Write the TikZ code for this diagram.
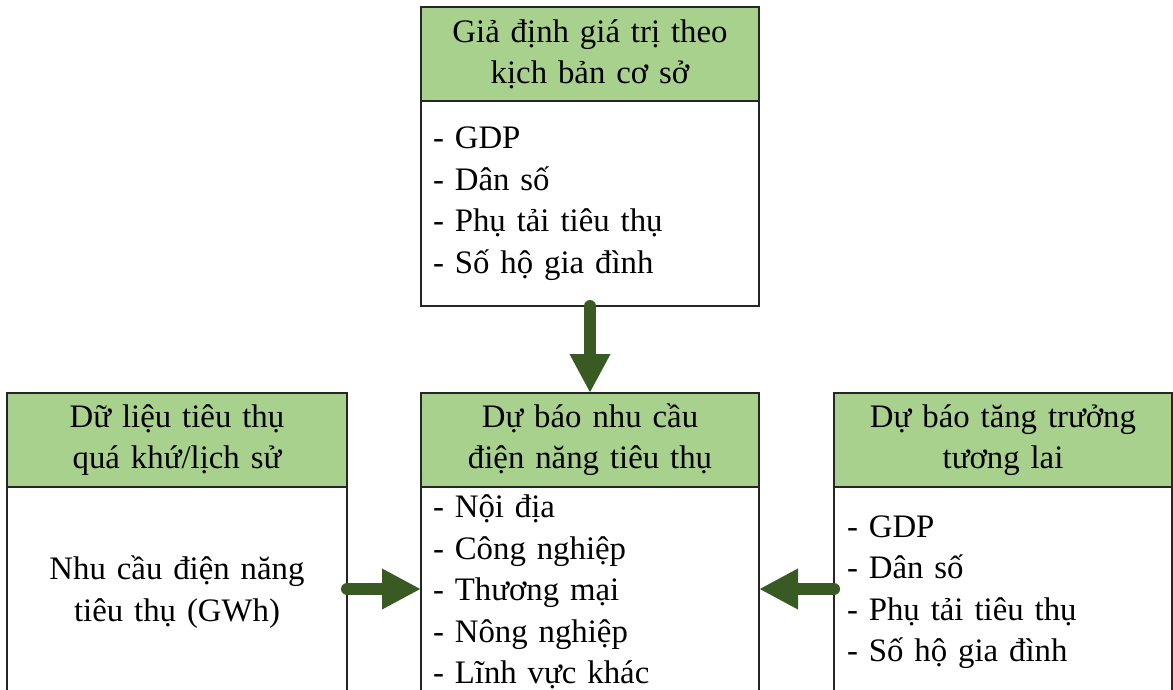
\documentclass[tikz,border=0pt]{standalone}
\usepackage{fontspec}
\setmainfont{Liberation Serif}
\usetikzlibrary{arrows.meta}
\definecolor{headgreen}{HTML}{A9D18E}
\definecolor{arrowgreen}{HTML}{3A5A24}
\tikzset{
  boxline/.style={draw=black!85, line width=1.3pt, outer sep=0pt},
  headbox/.style={boxline, fill=headgreen, anchor=north west, inner sep=0pt,
    minimum width=338pt, minimum height=94pt, text width=338pt, align=center,
    font=\fontsize{32.8}{41}\selectfont},
  listbox/.style={boxline, fill=white, anchor=north west, inner ysep=0pt, inner xsep=12pt,
    minimum width=338pt, text width=314pt, align=left,
    font=\fontsize{32.8}{41.5}\selectfont},
  bigarrow/.style={draw=arrowgreen, line width=12pt, line cap=round,
    -{Triangle[length=39pt 0 0, width=38pt 0 0]}}
}
\begin{document}
\begin{tikzpicture}[x=1pt,y=-1pt]
\useasboundingbox (0,0) rectangle (1173,690);
\clip (0,0) rectangle (1173,690);

% scenario assumptions
\node[headbox] (tophead) at (421,7) {Giả định giá trị theo\\kịch bản cơ sở};
\node[listbox, minimum height=205pt] (topbody) at (tophead.south west)
  {- GDP\\- Dân số\\- Phụ tải tiêu thụ\\- Số hộ gia đình};

% historical consumption data
\node[headbox, minimum width=340pt, text width=340pt] (lefthead) at (7,393)
  {Dữ liệu tiêu thụ\\quá khứ/lịch sử};
\node[listbox, minimum height=210pt, minimum width=340pt, text width=316pt, align=center]
  (leftbody) at (lefthead.south west)
  {Nhu cầu điện năng\\tiêu thụ (GWh)};

% demand forecast
\node[headbox] (midhead) at (421,393) {Dự báo nhu cầu\\điện năng tiêu thụ};
\node[listbox, minimum height=210pt] (midbody) at (midhead.south west)
  {- Nội địa\\- Công nghiệp\\- Thương mại\\- Nông nghiệp\\- Lĩnh vực khác};

% future growth forecast
\node[headbox] (righthead) at (834,393) {Dự báo tăng trưởng\\tương lai};
\node[listbox, minimum height=210pt, inner xsep=13pt, text width=312pt] (rightbody) at (righthead.south west)
  {- GDP\\- Dân số\\- Phụ tải tiêu thụ\\- Số hộ gia đình};

% connectors
\draw[bigarrow] (topbody.south) -- (midhead.north);
\draw[bigarrow] ([yshift=3pt]leftbody.east) -- ([yshift=3pt]midbody.west);
\draw[bigarrow] ([yshift=3pt]rightbody.west) -- ([yshift=3pt]midbody.east);
\end{tikzpicture}
\end{document}
